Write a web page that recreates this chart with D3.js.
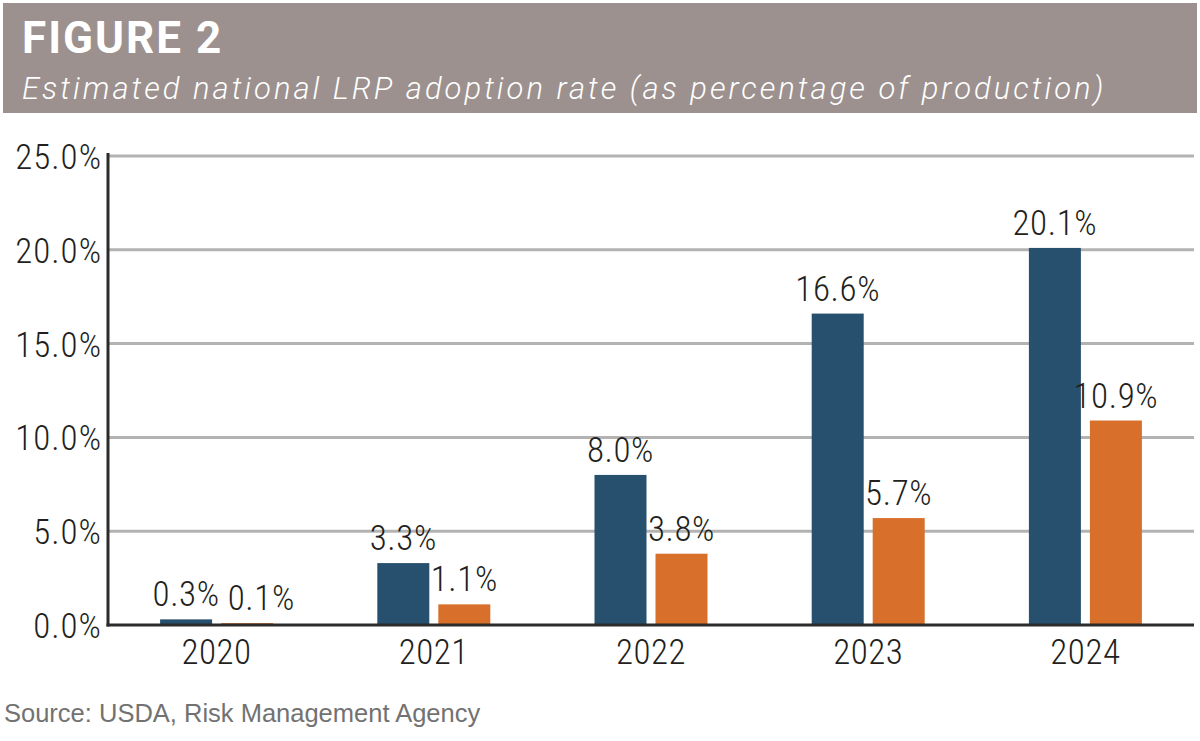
<!DOCTYPE html>
<html>
<head>
<meta charset="utf-8">
<script src="https://cdn.jsdelivr.net/npm/d3@7"></script>
<style>
  body { margin: 0; background: #fff; }
  svg text { font-family: "Liberation Sans Narrow", "Roboto Condensed", "Liberation Sans", Arial, sans-serif; }
</style>
</head>
<body>
<div id="chart"></div>
<script>
// values
var years = ["2020", "2021", "2022", "2023", "2024"];
var blueValues = [0.3, 3.3, 8.0, 16.6, 20.1];
var orangeValues = [0.1, 1.1, 3.8, 5.7, 10.9];
var yTicks = [0, 5, 10, 15, 20, 25];
var colors = ["#27506e", "#d8702c"];

var width = 1200, height = 741;
var svg = d3.select("#chart").append("svg")
    .attr("width", width)
    .attr("height", height);

// header band
svg.append("rect")
    .attr("x", 3).attr("y", 3)
    .attr("width", 1194).attr("height", 110)
    .attr("fill", "#9c918e");

svg.append("text")
    .attr("x", 22).attr("y", 53)
    .style("font-family", "Roboto, 'Liberation Sans', sans-serif")
    .style("font-weight", "bold")
    .style("font-size", "44px")
    .style("letter-spacing", "2px")
    .attr("fill", "#fff")
    .text("FIGURE 2");

svg.append("text")
    .attr("x", 22).attr("y", 99)
    .style("font-family", "Roboto, 'Open Sans', sans-serif")
    .style("font-style", "italic")
    .style("font-weight", "300")
    .style("font-size", "31px")
    .style("letter-spacing", "3px")
    .attr("fill", "#fff")
    .text("Estimated national LRP adoption rate (as percentage of production)");

var plotLeft = 108, plotRight = 1194, plotTop = 156, plotBottom = 625;

var x = d3.scaleBand().domain(years).range([plotLeft, plotRight]);
var y = d3.scaleLinear().domain([0, 25]).range([plotBottom, plotTop]);

// gridlines
svg.append("g").selectAll("line")
    .data(yTicks.filter(function (d) { return d > 0; }))
    .enter().append("line")
    .attr("x1", plotLeft).attr("x2", plotRight)
    .attr("y1", function (d) { return y(d); })
    .attr("y2", function (d) { return y(d); })
    .attr("stroke", "#b3b3b3")
    .attr("stroke-width", 3);

// y tick labels
svg.append("g").selectAll("text")
    .data(yTicks)
    .enter().append("text")
    .attr("x", 102)
    .attr("y", function (d) { return y(d) + 13; })
    .attr("text-anchor", "end")
    .style("font-size", "35px")
    .style("font-weight", "300")
    .style("letter-spacing", "1px")
    .attr("fill", "#231f20")
    .text(function (d) { return d.toFixed(1) + "%"; });

var barW = 52, gap = 9;
var rows = years.map(function (yr, i) {
    return { year: yr, vals: [blueValues[i], orangeValues[i]] };
});

var groups = svg.append("g").selectAll("g")
    .data(rows)
    .enter().append("g")
    .attr("transform", function (d) { return "translate(" + (x(d.year) + x.bandwidth() / 2) + ",0)"; });

var bars = groups.selectAll("g.bar")
    .data(function (d) { return d.vals.map(function (v, j) { return { v: v, j: j }; }); })
    .enter().append("g").attr("class", "bar");

bars.append("rect")
    .attr("x", function (d) { return d.j === 0 ? -(barW + gap / 2) : gap / 2; })
    .attr("width", barW)
    .attr("y", function (d) { return y(d.v); })
    .attr("height", function (d) { return plotBottom - y(d.v); })
    .attr("fill", function (d) { return colors[d.j]; });

bars.append("text")
    .attr("x", function (d) { return d.j === 0 ? -(barW + gap) / 2 : (barW + gap) / 2; })
    .attr("y", function (d) { return y(d.v) - 13; })
    .attr("text-anchor", "middle")
    .style("font-size", "35px")
    .style("font-weight", "300")
    .style("letter-spacing", "0.6px")
    .attr("fill", "#231f20")
    .text(function (d) { return d.v.toFixed(1) + "%"; });

// push the orange label right when it runs into the blue one (2020)
groups.each(function () {
    var labels = d3.select(this).selectAll("g.bar text").nodes();
    var a = labels[0].getBBox(), b = labels[1].getBBox();
    var sameRow = Math.abs(a.y - b.y) < a.height;
    var overlap = a.x + a.width + 8 - b.x;
    if (sameRow && overlap > 0) {
        d3.select(labels[1]).attr("x", +d3.select(labels[1]).attr("x") + overlap);
    }
});

// x labels
svg.append("g").selectAll("text")
    .data(years)
    .enter().append("text")
    .attr("x", function (d) { return x(d) + x.bandwidth() / 2; })
    .attr("y", 664)
    .attr("text-anchor", "middle")
    .style("font-size", "35px")
    .style("font-weight", "300")
    .style("letter-spacing", "0.5px")
    .attr("fill", "#231f20")
    .text(function (d) { return d; });

// axes lines
svg.append("line")
    .attr("x1", plotLeft).attr("x2", plotLeft)
    .attr("y1", 153).attr("y2", plotBottom + 1.5)
    .attr("stroke", "#2b2b2b").attr("stroke-width", 3);
svg.append("line")
    .attr("x1", plotLeft - 1.5).attr("x2", plotRight)
    .attr("y1", plotBottom).attr("y2", plotBottom)
    .attr("stroke", "#2b2b2b").attr("stroke-width", 3);

svg.append("text")
    .attr("x", 4).attr("y", 722)
    .style("font-family", "'Liberation Sans', Arial, sans-serif")
    .style("font-size", "25.5px")
    .attr("fill", "#727272")
    .text("Source: USDA, Risk Management Agency");
</script>
</body>
</html>
